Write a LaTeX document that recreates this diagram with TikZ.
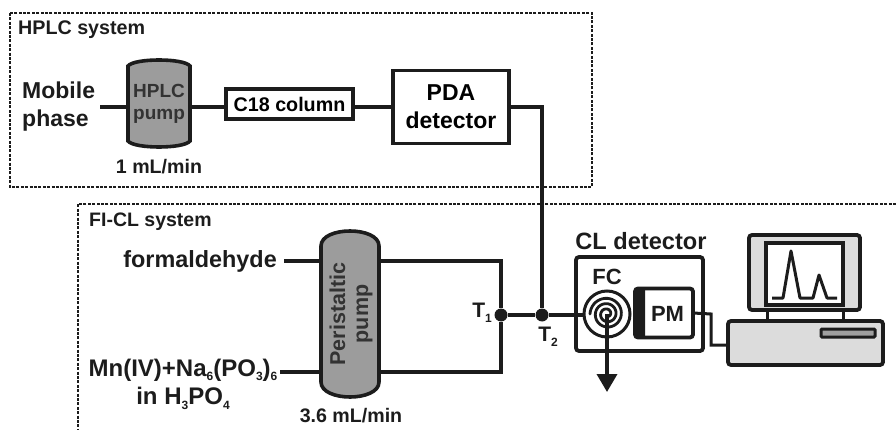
\documentclass[tikz,border=0pt]{standalone}
\usepackage{fontspec}
\setmainfont{Liberation Sans}
\usetikzlibrary{calc,arrows.meta}
\newcommand{\fsz}[1]{\fontsize{#1}{#1}\selectfont\bfseries}
\newcommand{\sbs}[1]{\raisebox{-4.5pt}{\fontsize{12}{12}\selectfont #1}}
\definecolor{ink}{HTML}{1C1C1C}
\definecolor{pumpgray}{HTML}{9C9C9C}
\definecolor{pcgray}{HTML}{DCDCDC}
\tikzset{
  sysframe/.style={draw=ink,line width=1.9pt,dash pattern=on 3pt off 1.4pt},
  pipe/.style={draw=ink,line width=3.6pt},
  thin pipe/.style={draw=ink,line width=3pt},
  box/.style={draw=ink,line width=3.8pt,fill=white,inner sep=0pt,outer sep=0pt},
  rbox/.style={box,rounded corners=3pt},
  junction/.style={circle,fill=ink,inner sep=0pt,minimum size=13pt},
  pumpshape/.style={draw=ink,line width=3.6pt,fill=pumpgray},
  pumptext/.style={text=black!80,align=center,inner sep=0pt},
  lab/.style={text=ink,inner sep=0pt,align=center},
  pt/.style={inner sep=0pt,outer sep=0pt,minimum size=0pt}
}
\begin{document}
\begin{tikzpicture}[x=1pt,y=-1pt]
\useasboundingbox (0,0) rectangle (896,430);
% frames
\draw[sysframe] (10,13) rectangle (592,187);
\draw[sysframe] (896,204) -- (78,204) -- (78,430);
\node[lab,anchor=west] (hplcsys) at (18,30) {\fsz{19.7}HPLC system};
\node[lab,anchor=west] (ficlsys) at (89,222) {\fsz{19.5}FI-CL system};
% pumps
\path[pumpshape] (128,66) .. controls (134,58) and (184,58) .. (190,66) -- (190,141) .. controls (184,149) and (134,149) .. (128,141) -- cycle;
\node[pt,minimum width=62pt,minimum height=86pt] (hpump) at (159,107) {};
\node[pumptext] (hpumptext) at (159,103.5) {\fsz{19}HPLC\\[10pt]\fsz{19}pump};
\path[pumpshape] (321,246) .. controls (321,226) and (379,226) .. (379,246) -- (379,382) .. controls (379,402) and (321,402) .. (321,382) -- cycle;
\node[pt,minimum width=58pt,minimum height=166pt] (ppump) at (350,314) {};
\node[pumptext,rotate=90] (ppumptext) at (351,314) {\fsz{21.5}Peristaltic\\[11pt]\fsz{21.5}pump};
% HPLC line
\node[lab,align=left,anchor=west] (mobile) at (22,107) {\fsz{23}Mobile\\[10pt]\fsz{23}phase};
\node[box,minimum width=127pt,minimum height=30pt] (c18) at (289.5,104) {\fsz{19.7}C18 column};
\node[box,minimum width=116pt,minimum height=73pt,align=center] (pda) at (451,107) {\fsz{23}PDA\\[10pt]\fsz{23}detector};
\node[lab] (flowa) at (159,167) {\fsz{19.6}1 mL/min};
\coordinate (mobend) at (100,107);
\draw[pipe] (mobend) -- (mobend -| hpump.west);
\draw[pipe] (hpump.east) -- (hpump.east -| c18.west);
\draw[pipe] (c18.east |- pda.west) -- (pda.west);
% FI-CL
\node[lab,anchor=east] (form) at (277,261) {\fsz{23.4}formaldehyde};
\node[lab] (mn) at (183,384) {\fsz{24}Mn(IV)+Na\sbs{6}(PO\sbs{3})\sbs{6}\\[5pt]\fsz{24}in H\sbs{3}PO\sbs{4}};
\node[lab] (flowb) at (351,416) {\fsz{19.6}3.6 mL/min};
\node[junction] (t1) at (501,315) {};
\node[junction] (t2) at (542,315) {};
\node[lab] (t1lab) at (482,313) {\fsz{21}T\sbs{1}};
\node[lab] (t2lab) at (548,337) {\fsz{21}T\sbs{2}};
\coordinate (formend) at (284,261);
\coordinate (mnend) at (280,372);
\draw[pipe] (formend) -- (321,261);
\draw[pipe] (mnend) -- (321,372);
\draw[pipe] (379,261) -| (t1);
\draw[pipe] (379,372) -| (t1);
\draw[pipe] (pda.east) -| (t2);
\draw[pipe] (t1) -- (t2);
% CL detector
\node[lab] (cllab) at (641,241) {\fsz{23.6}CL detector};
\node[rbox,minimum width=127pt,minimum height=94pt] (cl) at (639.5,304) {};
\node[lab] (fclab) at (607,277) {\fsz{22}FC};
\coordinate (coil) at (607,314);
\coordinate (coilin) at (583,315);
\draw[pipe] (t2) -- (coilin);
\draw[draw=ink,line width=3pt] (coil) circle[radius=23];
\draw[draw=ink,line width=2.8pt,line cap=round] plot[smooth,domain=0:1000,samples=110] ({607+(17-\x/67.5)*cos(\x+180)},{314+(17-\x/67.5)*sin(\x+180)});
\node[rbox,minimum width=58pt,minimum height=49pt] (pm) at (664,313) {};
\fill[ink] (638,288) -- (645,288) -- (645,338) -- (638,338) .. controls (635,338) and (635,336) .. (635,334) -- (635,292) .. controls (635,290) and (635,288) .. (638,288) -- cycle;
\node[lab] (pmlab) at (667.5,314) {\fsz{22}PM};
\coordinate (outlet) at (607,392);
\draw[pipe,-{Triangle[length=18pt,width=20pt]}] (coil) -- (outlet);
% computer
\node[box,rounded corners=3pt,fill=pcgray,minimum width=111pt,minimum height=75pt] (monitor) at (804.5,272.5) {};
\node[box,rounded corners=0pt,minimum width=77pt,minimum height=62pt] (screen) at (804.5,274) {};
\node[box,rounded corners=3pt,fill=pcgray,minimum width=155pt,minimum height=44pt] (base) at (805.5,343) {};
\node[box,draw=ink,rounded corners=1pt,fill=gray!75,line width=3pt,minimum width=54pt,minimum height=8pt] (slot) at (848,333) {};
\draw[thin pipe] (767,310) -- (767,321);
\draw[thin pipe] (843,310) -- (843,321);
\draw[draw=ink,line width=3pt,line join=round] (772,298) -- (783,298) -- (791,251) -- (800,298) -- (813,298) -- (819,275) -- (827,298) -- (837,298);
\draw[thin pipe] (pm.east) -- (711,314) -- (711,345) -- (base.west |- 711,345);
\end{tikzpicture}
\end{document}
